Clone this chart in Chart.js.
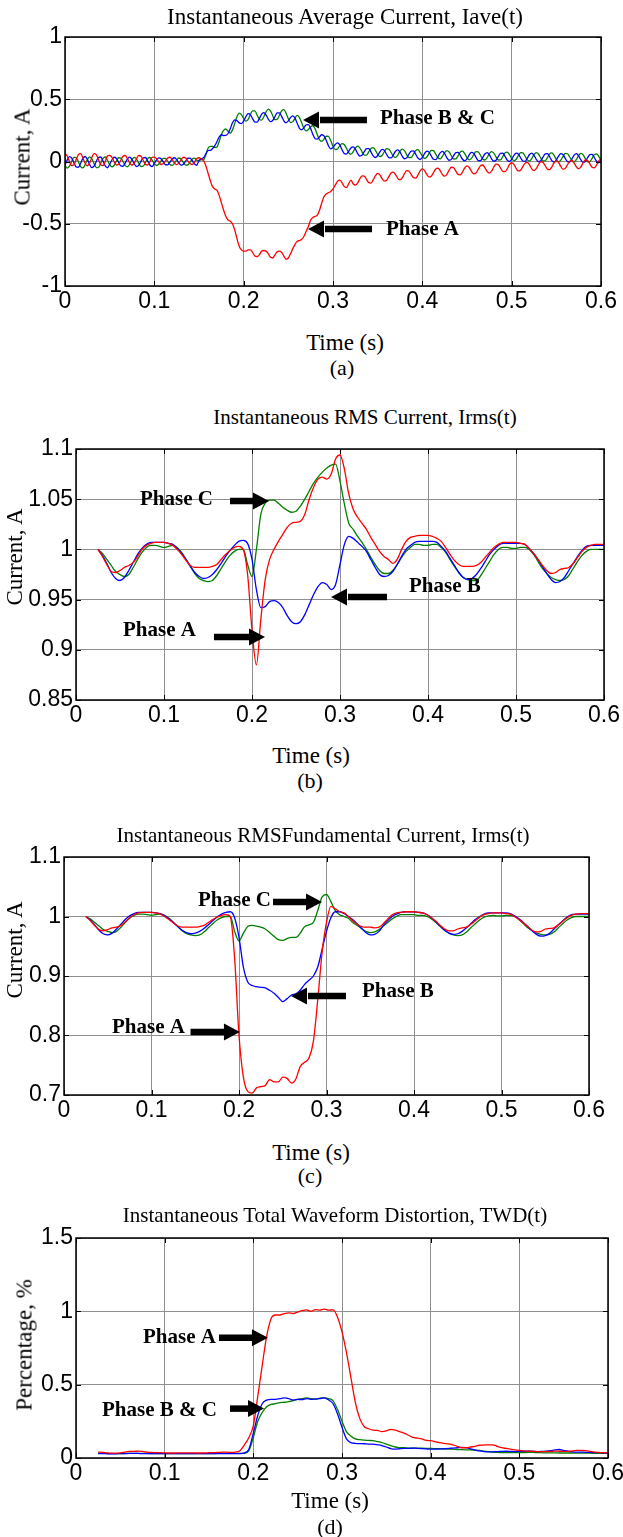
<!DOCTYPE html>
<html>
<head>
<meta charset="utf-8">
<script src="https://cdn.jsdelivr.net/npm/chart.js@4/dist/chart.umd.min.js"></script>
<style>
  body { margin: 0; background: #fff; }
  #page { position: relative; width: 623px; height: 1537px; overflow: hidden; background: #fff; }
  canvas { position: absolute; left: 0; }
  .t { position: absolute; transform: translate(-50%, -50%); white-space: nowrap; line-height: 1;
       font-family: "Liberation Serif", "Times New Roman", serif; color: #000; }
  .rot { transform: translate(-50%, -50%) rotate(-90deg); }
</style>
</head>
<body>
<div id="page">
  <canvas id="cAve"></canvas>
  <canvas id="cRms"></canvas>
  <canvas id="cFund"></canvas>
  <canvas id="cTwd"></canvas>

  <div class="t" style="left:345px;top:16px;font-size:23px">Instantaneous Average Current, Iave(t)</div>
  <div class="t rot" style="left:22px;top:157px;font-size:23px">Current, A</div>
  <div class="t" style="left:345px;top:342px;font-size:23px">Time (s)</div>
  <div class="t" style="left:342px;top:368px;font-size:22px">(a)</div>

  <div class="t" style="left:365px;top:417px;font-size:21px">Instantaneous RMS Current, Irms(t)</div>
  <div class="t rot" style="left:14px;top:557px;font-size:23px">Current, A</div>
  <div class="t" style="left:311px;top:755px;font-size:23px">Time (s)</div>
  <div class="t" style="left:310px;top:781px;font-size:22px">(b)</div>

  <div class="t" style="left:323px;top:835px;font-size:21px">Instantaneous RMSFundamental Current, Irms(t)</div>
  <div class="t rot" style="left:14px;top:950px;font-size:23px">Current, A</div>
  <div class="t" style="left:311px;top:1152px;font-size:23px">Time (s)</div>
  <div class="t" style="left:310px;top:1176px;font-size:22px">(c)</div>

  <div class="t" style="left:335px;top:1215px;font-size:21px">Instantaneous Total Waveform Distortion, TWD(t)</div>
  <div class="t rot" style="left:24px;top:1345px;font-size:23px">Percentage, %</div>
  <div class="t" style="left:330px;top:1500px;font-size:23px">Time (s)</div>
  <div class="t" style="left:330px;top:1527px;font-size:22px">(d)</div>
</div>
<script>
// time grids (s): fine grid for Iave, coarser grid for the rms / TWD traces
const tFast = Array.from({ length: 241 }, (_, i) => Math.round(i * 25) / 10000);
const tSlow = Array.from({ length: 116 }, (_, i) => Math.round(250 + i * 50) / 10000);

const xTickVals = [0, 0.1, 0.2, 0.3, 0.4, 0.5, 0.6];
const aveTicks = [-1, -0.5, 0, 0.5, 1];
const rmsTicks = [0.85, 0.9, 0.95, 1, 1.05, 1.1];
const fundTicks = [0.7, 0.8, 0.9, 1, 1.1];
const twdTicks = [0, 0.5, 1, 1.5];

// (a) instantaneous average current
const aveA = [
  .065,.044,0,-.033,-.025,.015,.055,.063,.03,-.014,-.035,-.014,.03,.063,.055,.015,-.025,-.033,0,.044,
  .05,.034,-.002,-.028,-.022,.01,.042,.048,.022,-.014,-.03,-.014,.022,.048,.042,.01,-.022,-.028,-.002,.034,
  .035,.023,-.004,-.024,-.019,.005,.029,.034,.014,-.013,-.025,-.013,.014,.034,.029,.005,-.019,-.024,-.004,.023,
  .03,.02,.01,-.03,-.09,-.15,-.2,-.22,-.23,-.27,-.33,-.39,-.44,-.47,-.48,-.5,-.55,-.62,-.68,-.71,
  -.72,-.72,-.71,-.71,-.73,-.76,-.765,-.75,-.72,-.715,-.72,-.74,-.77,-.775,-.75,-.725,-.72,-.73,-.76,-.785,
  -.775,-.74,-.7,-.665,-.64,-.635,-.625,-.6,-.56,-.52,-.47,-.45,-.44,-.43,-.39,-.33,-.28,-.26,-.25,-.24,
  -.22,-.19,-.16,-.15,-.17,-.2,-.21,-.18,-.149,-.179,-.19,-.174,-.14,-.116,-.118,-.144,-.17,-.173,-.148,-.114,
  -.095,-.107,-.138,-.158,-.151,-.121,-.092,-.085,-.105,-.135,-.148,-.132,-.098,-.074,-.078,-.104,-.13,-.133,-.11,-.076,
  -.06,-.073,-.104,-.124,-.118,-.089,-.06,-.053,-.074,-.105,-.118,-.103,-.069,-.046,-.05,-.077,-.104,-.107,-.084,-.051,
  -.035,-.048,-.079,-.099,-.093,-.064,-.035,-.028,-.049,-.08,-.093,-.078,-.044,-.021,-.025,-.052,-.079,-.082,-.059,-.026,
  -.01,-.023,-.055,-.076,-.07,-.041,-.013,-.007,-.028,-.059,-.073,-.058,-.025,-.002,-.007,-.034,-.061,-.065,-.043,-.01,
  .005,-.008,-.04,-.061,-.055,-.026,.002,.008,-.013,-.044,-.058,-.043,-.01,.013,.008,-.019,-.046,-.05,-.028,.005,.02
];
const aveB = [
  -.028,.013,.039,.028,-.01,-.044,-.046,-.014,.025,.04,.018,-.023,-.049,-.038,0,.034,.036,.004,-.035,-.05,
  -.022,.012,.034,.025,-.007,-.036,-.038,-.011,.022,.035,.016,-.018,-.04,-.031,.001,.03,.032,.005,-.028,-.041,
  -.015,.012,.029,.022,-.003,-.026,-.027,-.006,.02,.03,.015,-.012,-.029,-.022,.003,.026,.027,.006,-.02,-.03,
  .01,.02,.03,.059,.088,.089,.102,.125,.157,.197,.215,.208,.209,.225,.264,.311,.334,.328,.31,.305,
  .326,.361,.384,.376,.344,.317,.316,.344,.378,.392,.374,.341,.32,.329,.361,.39,.391,.362,.327,.311,
  .326,.353,.367,.348,.306,.267,.255,.272,.295,.296,.264,.217,.183,.18,.199,.215,.205,.168,.125,.102,
  .112,.137,.15,.135,.096,.065,.06,.082,.108,.118,.1,.066,.044,.051,.079,.103,.104,.077,.045,.032,
  .048,.078,.098,.089,.058,.031,.029,.053,.082,.093,.076,.043,.022,.029,.059,.084,.085,.059,.029,.016,
  .033,.064,.083,.075,.044,.018,.015,.04,.069,.081,.063,.03,.01,.017,.047,.072,.074,.048,.018,.005,
  .023,.054,.073,.065,.035,.008,.006,.031,.06,.072,.055,.022,.002,.01,.04,.065,.067,.042,.012,0,
  .018,.049,.068,.06,.03,.004,.001,.026,.056,.068,.05,.018,-.002,.006,.035,.061,.063,.038,.007,-.005,
  .013,.044,.064,.055,.025,-.001,-.004,.021,.051,.063,.045,.013,-.007,0,.03,.056,.058,.032,.002,-.01,.008
];
const aveC = [
  -.031,-.053,-.038,.001,.033,.031,-.003,-.041,-.052,-.026,.015,.037,.022,-.017,-.049,-.047,-.013,.025,.036,.01,
  -.024,-.043,-.03,.003,.03,.028,-.001,-.033,-.042,-.02,.014,.033,.02,-.013,-.04,-.038,-.009,.023,.032,.01,
  -.017,-.032,-.022,.004,.025,.024,.001,-.024,-.031,-.014,.013,.028,.018,-.008,-.029,-.028,-.005,.02,.027,.01,
  .005,.015,.013,.052,.104,.121,.122,.114,.116,.159,.215,.25,.261,.243,.228,.254,.306,.36,.389,.377,
  .344,.324,.339,.377,.406,.406,.375,.341,.332,.357,.398,.421,.407,.368,.336,.338,.371,.407,.416,.387,
  .343,.313,.32,.349,.371,.353,.31,.265,.246,.257,.28,.287,.262,.214,.173,.162,.181,.203,.201,.167,
  .122,.096,.101,.125,.143,.137,.107,.072,.059,.077,.108,.123,.11,.078,.052,.052,.077,.105,.112,.09,
  .057,.039,.05,.079,.103,.1,.073,.042,.033,.052,.084,.1,.087,.056,.031,.032,.058,.087,.095,.074,
  .042,.024,.036,.065,.09,.087,.06,.03,.021,.041,.072,.088,.076,.045,.02,.021,.046,.076,.083,.063,
  .03,.013,.025,.054,.079,.077,.05,.02,.012,.031,.063,.08,.067,.037,.012,.013,.039,.069,.076,.056,
  .024,.006,.018,.047,.072,.069,.043,.013,.004,.024,.055,.072,.06,.029,.004,.006,.031,.061,.069,.049,
  .017,-.001,.011,.04,.065,.062,.036,.006,-.003,.017,.049,.065,.053,.023,-.003,-.001,.025,.055,.062,.042,.01
];

// (b) instantaneous rms current
const rmsA = [
  1,.993,.985,.978,.977,.979,.982,.984,.987,.993,
  1,1.004,1.006,1.007,1.007,1.007,1.006,1.004,1,.995,
  .989,.984,.982,.982,.982,.982,.983,.985,.99,.995,
  .999,1.002,1.003,1,.975,.92,.885,.93,.97,.99,
  1,1.008,1.015,1.022,1.026,1.027,1.028,1.035,1.05,1.062,
  1.07,1.072,1.07,1.075,1.09,1.094,1.08,1.055,1.04,1.032,
  1.026,1.02,1.012,1.005,.998,.993,.99,.986,.99,1,
  1.008,1.012,1.013,1.014,1.014,1.014,1.013,1.011,1.008,1.002,
  .995,.989,.985,.983,.983,.983,.984,.987,.992,.997,
  1.002,1.005,1.007,1.007,1.007,1.007,1.006,1.005,1.001,.996,
  .99,.984,.979,.976,.977,.98,.981,.982,.986,.992,
  .998,1.002,1.004,1.005,1.005,1.005
];
const rmsB = [
  1,.994,.986,.977,.971,.969,.972,.979,.987,.995,
  1.001,1.005,1.007,1.007,1.007,1.007,1.006,1.005,1.001,.996,
  .99,.983,.977,.973,.971,.972,.975,.98,.986,.993,
  .999,1.004,1.008,1.009,1.006,.99,.96,.942,.943,.948,
  .949,.947,.942,.934,.928,.926,.928,.935,.945,.955,
  .963,.967,.965,.96,.965,.985,1.005,1.013,1.011,1.007,
  1.003,.998,.99,.982,.975,.973,.974,.978,.985,.993,
  1,1.004,1.007,1.008,1.008,1.008,1.008,1.007,1.003,.998,
  .991,.984,.977,.972,.97,.971,.975,.981,.988,.995,
  1,1.004,1.006,1.006,1.006,1.006,1.006,1.005,1.001,.996,
  .99,.983,.976,.97,.967,.968,.972,.979,.986,.993,
  .999,1.003,1.004,1.004,1.004,1.004
];
const rmsC = [
  1,.996,.99,.984,.978,.975,.973,.975,.982,.99,
  .997,1.002,1.004,1.004,1.003,1.002,1.003,1.004,1.002,.997,
  .99,.983,.976,.971,.969,.968,.969,.974,.981,.988,
  .994,.998,1,1,.985,.973,1,1.035,1.046,1.049,
  1.049,1.046,1.042,1.039,1.037,1.038,1.043,1.05,1.058,1.066,
  1.072,1.077,1.081,1.084,1.085,1.068,1.045,1.026,1.02,1.013,
  1.007,1,.992,.985,.979,.976,.976,.979,.985,.992,
  .998,1.002,1.005,1.005,1.004,1.004,1.005,1.005,1.002,.997,
  .99,.983,.977,.972,.97,.969,.969,.974,.981,.988,
  .995,1,1.002,1.002,1.001,1.001,1.002,1.002,1,.995,
  .988,.981,.976,.972,.97,.969,.97,.974,.981,.988,
  .994,.998,1,1,1,1
];

// (c) instantaneous rms of the fundamental
const fundA = [
  1,.993,.985,.978,.976,.978,.981,.982,.985,.991,
  .998,1.003,1.006,1.007,1.007,1.007,1.006,1.004,1,.995,
  .989,.984,.982,.982,.982,.982,.983,.985,.99,.995,
  .999,1.002,1.003,1,.93,.8,.73,.706,.703,.712,
  .714,.716,.726,.722,.722,.73,.728,.72,.727,.748,
  .755,.762,.79,.86,.94,.99,1.017,1.013,1.008,1.006,
  1,.993,.987,.983,.982,.982,.981,.982,.988,.996,
  1.003,1.006,1.007,1.008,1.008,1.008,1.007,1.006,1.003,.998,
  .992,.985,.979,.976,.976,.979,.981,.982,.987,.993,
  .999,1.003,1.005,1.006,1.006,1.006,1.005,1.004,1,.995,
  .989,.983,.977,.974,.975,.979,.98,.981,.986,.992,
  .998,1.002,1.004,1.005,1.005,1.005
];
const fundB = [
  1,.994,.986,.977,.971,.969,.972,.979,.987,.995,
  1.001,1.005,1.007,1.007,1.007,1.007,1.006,1.005,1.001,.996,
  .99,.983,.977,.973,.971,.972,.975,.98,.986,.993,
  .999,1.004,1.007,1.008,.998,.965,.915,.89,.884,.882,
  .881,.88,.876,.871,.864,.857,.862,.868,.87,.876,
  .886,.893,.9,.915,.945,.975,.998,1.008,1.008,1.005,
  1,.995,.988,.98,.973,.969,.97,.975,.985,.993,
  1,1.004,1.007,1.008,1.008,1.008,1.007,1.006,1.003,.998,
  .991,.984,.977,.972,.97,.971,.975,.981,.988,.995,
  1,1.004,1.006,1.006,1.006,1.006,1.006,1.005,1.001,.996,
  .99,.983,.976,.97,.967,.968,.972,.979,.986,.993,
  .999,1.003,1.004,1.004,1.004,1.004
];
const fundC = [
  1,.996,.99,.984,.978,.975,.973,.975,.982,.99,
  .997,1.002,1.004,1.004,1.003,1.002,1.003,1.004,1.002,.997,
  .99,.983,.976,.971,.969,.968,.969,.974,.981,.988,
  .994,.998,1,1,.975,.959,.972,.983,.985,.984,
  .982,.979,.973,.967,.961,.96,.963,.965,.965,.972,
  .983,.986,.99,1.01,1.033,1.037,1.025,1.01,1.003,1,
  .997,.99,.985,.98,.975,.973,.974,.978,.984,.99,
  .996,1,1.003,1.003,1.003,1.003,1.002,1.002,1,.996,
  .99,.983,.977,.972,.969,.968,.969,.974,.981,.988,
  .994,.999,1.001,1.002,1.001,1.001,1.002,1.002,1,.995,
  .988,.981,.976,.972,.97,.969,.97,.974,.981,.988,
  .994,.998,1,1,1,1
];

// (d) instantaneous total waveform distortion, %
const twdA = [
  .04,.038,.035,.033,.033,.035,.04,.045,.045,.047,
  .045,.04,.038,.037,.036,.035,.034,.034,.035,.035,
  .035,.035,.034,.034,.035,.036,.037,.038,.04,.04,
  .038,.04,.05,.09,.14,.22,.42,.63,.83,.95,
  .975,.975,.985,.99,.985,.995,1.005,1.01,1,1.012,
  1.008,1.015,1.008,1.01,.96,.86,.72,.55,.38,.27,
  .215,.2,.19,.188,.18,.185,.195,.19,.18,.17,
  .155,.14,.135,.13,.12,.118,.112,.105,.1,.096,
  .09,.08,.07,.07,.075,.08,.087,.088,.09,.09,
  .08,.07,.065,.06,.056,.052,.048,.047,.045,.044,
  .043,.043,.045,.047,.046,.045,.045,.048,.052,.052,
  .05,.045,.04,.038,.036,.035
];
const twdB = [
  .03,.03,.029,.029,.029,.03,.03,.031,.031,.031,
  .03,.03,.03,.03,.03,.03,.03,.03,.03,.03,
  .03,.03,.03,.03,.03,.03,.03,.03,.03,.03,
  .03,.03,.03,.035,.06,.17,.29,.37,.395,.4,
  .4,.405,.41,.405,.395,.4,.398,.405,.4,.403,
  .405,.41,.395,.37,.3,.21,.13,.105,.1,.098,
  .097,.095,.094,.09,.085,.075,.064,.06,.063,.065,
  .065,.068,.066,.064,.062,.06,.06,.062,.063,.065,
  .068,.07,.072,.07,.062,.055,.048,.044,.042,.042,
  .044,.045,.046,.045,.044,.045,.046,.047,.046,.044,
  .045,.047,.05,.055,.058,.052,.046,.042,.04,.04,
  .039,.038,.037,.036,.035,.034
];
const twdC = [
  .032,.031,.031,.03,.03,.03,.031,.032,.032,.032,
  .031,.031,.03,.03,.03,.03,.03,.03,.03,.03,
  .03,.03,.03,.03,.03,.03,.03,.031,.031,.031,
  .031,.031,.031,.032,.05,.14,.25,.31,.35,.365,
  .37,.378,.38,.385,.392,.4,.405,.41,.405,.4,
  .408,.41,.405,.39,.33,.25,.18,.15,.13,.125,
  .122,.12,.118,.112,.105,.095,.085,.075,.07,.07,
  .068,.068,.068,.067,.066,.065,.064,.063,.062,.061,
  .06,.058,.057,.056,.055,.054,.052,.047,.043,.04,
  .038,.037,.036,.036,.036,.036,.037,.038,.038,.037,
  .036,.035,.035,.035,.034,.034,.034,.034,.033,.033,
  .033,.033,.032,.032,.032,.032
];

// arrow annotations, in data coordinates: text anchor (left, middle), arrow tail -> tip
const notesAve = [
  { text: 'Phase B & C', x: 0.3526, y: 0.341, from: [0.338, 0.333], to: [0.2664, 0.333] },
  { text: 'Phase A', x: 0.3593, y: -0.55, from: [0.3437, -0.542], to: [0.272, -0.542] }
];
const notesRms = [
  { text: 'Phase C', x: 0.0727, y: 1.0492, from: [0.175, 1.0482], to: [0.2193, 1.0482] },
  { text: 'Phase A', x: 0.0534, y: 0.9187, from: [0.1568, 0.9128], to: [0.2148, 0.9128] },
  { text: 'Phase B', x: 0.3784, y: 0.9625, from: [0.3534, 0.9526], to: [0.2898, 0.9526] }
];
const notesFund = [
  { text: 'Phase C', x: 0.1531, y: 1.026, from: [0.2389, 1.0244], to: [0.2949, 1.0244] },
  { text: 'Phase B', x: 0.3406, y: 0.873, from: [0.3223, 0.8664], to: [0.2594, 0.8664] },
  { text: 'Phase A', x: 0.0549, y: 0.8126, from: [0.1446, 0.8059], to: [0.2011, 0.8059] }
];
const notesTwd = [
  { text: 'Phase A', x: 0.0756, y: 0.8197, from: [0.1613, 0.8197], to: [0.2165, 0.8197] },
  { text: 'Phase B & C', x: 0.0293, y: 0.3231, from: [0.1737, 0.3367], to: [0.212, 0.3367] }
];

const RED = '#ff0000', GREEN = '#008000', BLUE = '#0000ff';
const tickFont = { family: '"Liberation Sans", Arial, sans-serif', size: 23 };

function drawArrow(ctx, x1, y1, x2, y2) {
  const a = Math.atan2(y2 - y1, x2 - x1);
  const head = 16, half = 8.5;
  const bx = x2 - head * Math.cos(a), by = y2 - head * Math.sin(a);
  ctx.lineWidth = 6.5;
  ctx.beginPath(); ctx.moveTo(x1, y1); ctx.lineTo(bx + 1, by); ctx.stroke();
  ctx.beginPath();
  ctx.moveTo(x2, y2);
  ctx.lineTo(bx + half * Math.sin(a), by - half * Math.cos(a));
  ctx.lineTo(bx - half * Math.sin(a), by + half * Math.cos(a));
  ctx.closePath(); ctx.fill();
}

// box round the plot, short inward ticks, arrows and labels
const framePlugin = {
  id: 'frame',
  afterDatasetsDraw(chart, args, opts) {
    const { ctx, chartArea: a, scales: { x, y } } = chart;
    ctx.save();
    ctx.strokeStyle = '#000'; ctx.fillStyle = '#000'; ctx.lineWidth = 1;
    ctx.beginPath();
    x.ticks.forEach(t => {
      const p = Math.round(x.getPixelForValue(t.value)) + 0.5;
      ctx.moveTo(p, a.bottom); ctx.lineTo(p, a.bottom - 5);
      ctx.moveTo(p, a.top); ctx.lineTo(p, a.top + 5);
    });
    y.ticks.forEach(t => {
      const p = Math.round(y.getPixelForValue(t.value)) + 0.5;
      ctx.moveTo(a.left, p); ctx.lineTo(a.left + 5, p);
      ctx.moveTo(a.right, p); ctx.lineTo(a.right - 5, p);
    });
    ctx.stroke();
    ctx.lineWidth = 1.5;
    ctx.strokeRect(a.left, a.top, a.right - a.left, a.bottom - a.top);

    ctx.font = 'bold 21px "Liberation Serif", "Times New Roman", serif';
    ctx.textBaseline = 'middle'; ctx.textAlign = 'left';
    (opts.items || []).forEach(n => {
      ctx.fillText(n.text, x.getPixelForValue(n.x), y.getPixelForValue(n.y));
      drawArrow(ctx, x.getPixelForValue(n.from[0]), y.getPixelForValue(n.from[1]),
                x.getPixelForValue(n.to[0]), y.getPixelForValue(n.to[1]));
    });
    ctx.restore();
  }
};

function makePanel(id, box, t, series, yMin, yMax, yTicks, notes) {
  const canvas = document.getElementById(id);
  canvas.width = 623;
  canvas.height = box.B - box.T + 16 + 30;
  canvas.style.top = (box.T - 16) + 'px';

  new Chart(canvas, {
    type: 'line',
    data: {
      datasets: series.map(s => ({
        data: s.values.map((v, i) => ({ x: t[i], y: v })),
        borderColor: s.color,
        borderWidth: 1.3,
        pointRadius: 0,
        fill: false,
        cubicInterpolationMode: 'monotone'
      }))
    },
    options: {
      responsive: false,
      animation: false,
      devicePixelRatio: 1,
      layout: { padding: { top: 16, right: 623 - box.R, bottom: 0, left: 0 } },
      plugins: {
        legend: { display: false },
        tooltip: { enabled: false },
        frame: { items: notes }
      },
      scales: {
        x: {
          type: 'linear', min: 0, max: 0.6,
          afterBuildTicks: s => { s.ticks = xTickVals.map(v => ({ value: v })); },
          afterFit: s => { s.height = 30; s.paddingLeft = 0; s.paddingRight = 0; },
          grid: { color: '#8f8f8f', lineWidth: 1, drawTicks: false },
          border: { display: false },
          ticks: { font: tickFont, color: '#000', padding: 2, maxRotation: 0, autoSkip: false,
                   callback: v => String(v) }
        },
        y: {
          type: 'linear', min: yMin, max: yMax,
          afterBuildTicks: s => { s.ticks = yTicks.map(v => ({ value: v })); },
          afterFit: s => { s.width = box.L; s.paddingTop = 0; s.paddingBottom = 0; },
          grid: { color: '#8f8f8f', lineWidth: 1, drawTicks: false },
          border: { display: false },
          ticks: { font: tickFont, color: '#000', padding: 3, autoSkip: false,
                   callback: v => String(v) }
        }
      }
    },
    plugins: [framePlugin]
  });
}

makePanel('cAve', { L: 65, R: 601, T: 37, B: 286 }, tFast,
  [{ values: aveA, color: RED }, { values: aveB, color: BLUE }, { values: aveC, color: GREEN }],
  -1, 1, aveTicks, notesAve);
makePanel('cRms', { L: 76, R: 604, T: 449, B: 700 }, tSlow,
  [{ values: rmsA, color: RED }, { values: rmsB, color: BLUE }, { values: rmsC, color: GREEN }],
  0.85, 1.1, rmsTicks, notesRms);
makePanel('cFund', { L: 64, R: 589, T: 857, B: 1095 }, tSlow,
  [{ values: fundA, color: RED }, { values: fundB, color: BLUE }, { values: fundC, color: GREEN }],
  0.7, 1.1, fundTicks, notesFund);
makePanel('cTwd', { L: 76, R: 608, T: 1238, B: 1458 }, tSlow,
  [{ values: twdA, color: RED }, { values: twdB, color: BLUE }, { values: twdC, color: GREEN }],
  0, 1.5, twdTicks, notesTwd);
</script>
</body>
</html>
